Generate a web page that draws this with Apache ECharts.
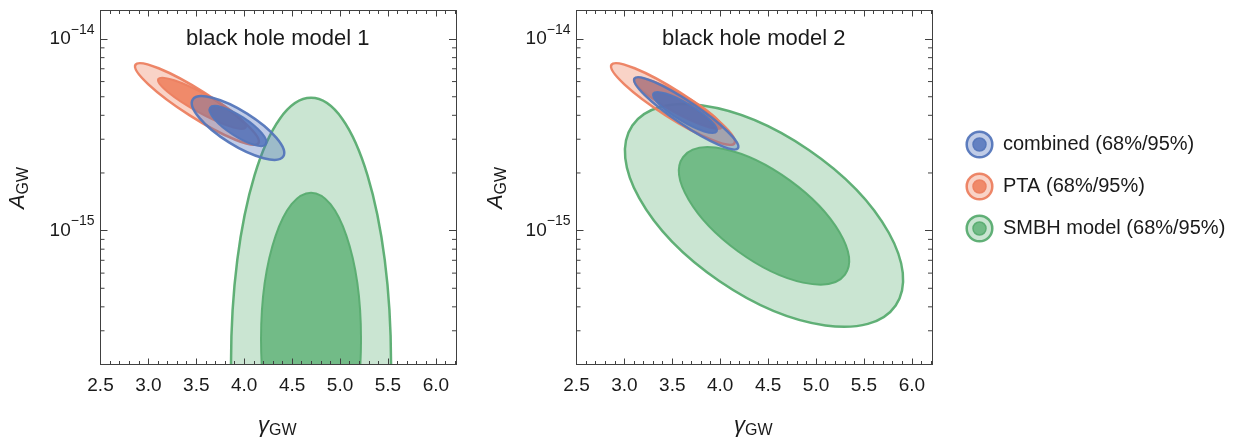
<!DOCTYPE html>
<html>
<head>
<meta charset="utf-8">
<script src="https://cdn.jsdelivr.net/npm/echarts@6/dist/echarts.min.js"></script>
<style>
html,body{margin:0;padding:0;background:#fff;}
#chart{width:1236px;height:439px;}
</style>
</head>
<body>
<div id="chart"></div>
<script>
// ---------------- data ----------------
const gammaRange = [2.5, 6.21];
const gammaTickStep = 0.5;
const ampRange = [2e-16, 1.41e-14];
const ampMinorTicks = [3e-16, 4e-16, 5e-16, 6e-16, 7e-16, 8e-16, 9e-16,
                       2e-15, 3e-15, 4e-15, 5e-15, 6e-15, 7e-15, 8e-15, 9e-15];

const panelTitles = ['black hole model 1', 'black hole model 2'];
const legendLabels = ['combined (68%/95%)', 'PTA (68%/95%)', 'SMBH model (68%/95%)'];

// each contour: [γ, A] of its centre, end of one axis, end of the other axis
const pta95 = [[3.507, 4.582e-15], [4.149, 2.860e-15], [3.431, 3.996e-15]];
const pta68 = [[3.559, 4.621e-15], [4.016, 3.452e-15], [3.511, 4.181e-15]];

const combined95Model1 = [[3.935, 3.434e-15], [4.408, 2.442e-15], [3.841, 2.887e-15]];
const combined68Model1 = [[3.935, 3.517e-15], [4.228, 2.824e-15], [3.878, 3.180e-15]];
const smbh95Model1 = [[4.697, 2.034e-16], [4.697, 4.935e-15], [5.532, 2.034e-16]];
const smbh68Model1 = [[4.697, 2.706e-16], [4.697, 1.578e-15], [5.219, 2.706e-16]];

const combined95Model2 = [[3.645, 4.097e-15], [4.185, 2.694e-15], [3.578, 3.654e-15]];
const combined68Model2 = [[3.632, 4.137e-15], [3.963, 3.290e-15], [3.584, 3.770e-15]];
const smbh95Model2 = [[4.457, 1.200e-15], [5.831, 4.067e-16], [3.989, 5.460e-16]];
const smbh68Model2 = [[4.457, 1.193e-15], [5.302, 5.888e-16], [4.187, 7.780e-16]];

// ---------------- styling ----------------
const FONT = '"Liberation Sans", Arial, Helvetica, sans-serif';
const FRAME = '#404040';
const TEXT = '#1a1a1a';
const palette = {
  comb: { line: 'rgba(84,118,186,0.95)', light: 'rgba(75,110,185,0.35)', dark: 'rgba(75,110,185,0.80)' },
  pta:  { line: 'rgba(236,128,96,0.95)', light: 'rgba(235,110,70,0.30)', dark: 'rgba(235,110,70,0.72)' },
  smbh: { line: 'rgba(88,172,112,0.95)', light: 'rgba(80,170,105,0.30)', dark: 'rgba(80,170,105,0.72)' }
};

const chart = echarts.init(document.getElementById('chart'), null, { renderer: 'canvas' });

const gridBoxes = [
  { left: 100.5, top: 10.5, width: 355.5, height: 354 },
  { left: 576.5, top: 10.5, width: 355.5, height: 354 }
];

function gammaLabel(v) {
  return Math.abs(v / gammaTickStep - Math.round(v / gammaTickStep)) < 1e-6 ? v.toFixed(1) : '';
}
function ampLabel(v) {
  const e = Math.log10(v);
  const r = Math.round(e);
  if (Math.abs(e - r) > 1e-6) return '';
  return '{b|10}{e|' + (r < 0 ? '\u2212' : '') + Math.abs(r) + '}';
}

const xAxes = [], yAxes = [];
gridBoxes.forEach((g, gi) => {
  ['bottom', 'top'].forEach(pos => {
    xAxes.push({
      type: 'value', gridIndex: gi, position: pos, z: 5,
      min: gammaRange[0], max: gammaRange[1], interval: gammaTickStep,
      axisLine: { show: true, onZero: false, lineStyle: { color: FRAME, width: 1 } },
      axisTick: { show: true, inside: true, length: 6, lineStyle: { color: FRAME, width: 1 } },
      minorTick: { show: true, splitNumber: 5, length: 3.5, lineStyle: { color: FRAME, width: 1 } },
      splitLine: { show: false },
      axisLabel: {
        show: pos === 'bottom', margin: 12, fontSize: 19, fontFamily: FONT, color: TEXT,
        formatter: gammaLabel, showMinLabel: true, showMaxLabel: true
      }
    });
  });
  ['left', 'right'].forEach(pos => {
    yAxes.push({
      type: 'log', logBase: 10, gridIndex: gi, position: pos, z: 5,
      min: ampRange[0], max: ampRange[1],
      axisLine: { show: true, onZero: false, lineStyle: { color: FRAME, width: 1 } },
      axisTick: { show: true, inside: true, length: 7, lineStyle: { color: FRAME, width: 1 } },
      minorTick: { show: false },
      splitLine: { show: false },
      axisLabel: {
        show: pos === 'left', margin: 6, formatter: ampLabel,
        rich: {
          b: { fontSize: 19, lineHeight: 32, fontFamily: FONT, color: TEXT },
          e: { fontSize: 14, verticalAlign: 'top', fontFamily: FONT, color: TEXT }
        }
      }
    });
  });
});

function contourSeries(pts, gi, fill, stroke, lw) {
  return {
    type: 'custom', coordinateSystem: 'cartesian2d', silent: true, clip: true,
    xAxisIndex: gi * 2, yAxisIndex: gi * 2, z: 2,
    data: [[pts[0][0], pts[0][1], pts[1][0], pts[1][1], pts[2][0], pts[2][1]]],
    renderItem: function (params, api) {
      const c = api.coord([api.value(0), api.value(1)]);
      const p = api.coord([api.value(2), api.value(3)]);
      const q = api.coord([api.value(4), api.value(5)]);
      const rx = Math.hypot(p[0] - c[0], p[1] - c[1]);
      const ry = Math.hypot(q[0] - c[0], q[1] - c[1]);
      const ang = Math.atan2(p[1] - c[1], p[0] - c[0]);
      const cs = params.coordSys;
      return {
        type: 'group',
        clipPath: { type: 'rect', shape: { x: cs.x, y: cs.y, width: cs.width, height: cs.height } },
        children: [{
          type: 'ellipse', x: c[0], y: c[1], rotation: -ang,
          shape: { cx: 0, cy: 0, rx: rx, ry: ry },
          style: { fill: fill, stroke: stroke, lineWidth: lw }
        }]
      };
    }
  };
}

function minorTickSeries(gi) {
  return {
    type: 'custom', coordinateSystem: 'cartesian2d', silent: true, z: 6,
    xAxisIndex: gi * 2, yAxisIndex: gi * 2,
    data: ampMinorTicks.map(v => [gammaRange[0], v]),
    renderItem: function (params, api) {
      const cs = params.coordSys;
      const y = api.coord([api.value(0), api.value(1)])[1];
      return {
        type: 'group', children: [
          { type: 'line', shape: { x1: cs.x, y1: y, x2: cs.x + 4, y2: y }, style: { stroke: FRAME, lineWidth: 1 } },
          { type: 'line', shape: { x1: cs.x + cs.width, y1: y, x2: cs.x + cs.width - 4, y2: y }, style: { stroke: FRAME, lineWidth: 1 } }
        ]
      };
    }
  };
}

const panels = [
  { smbh95: smbh95Model1, smbh68: smbh68Model1, c95: combined95Model1, c68: combined68Model1 },
  { smbh95: smbh95Model2, smbh68: smbh68Model2, c95: combined95Model2, c68: combined68Model2 }
];

const series = [];
panels.forEach((p, gi) => {
  series.push(contourSeries(p.smbh95, gi, palette.smbh.light, palette.smbh.line, 2.5));
  series.push(contourSeries(p.smbh68, gi, palette.smbh.dark, palette.smbh.line, 2));
  series.push(contourSeries(pta95, gi, palette.pta.light, palette.pta.line, 2.5));
  series.push(contourSeries(pta68, gi, palette.pta.dark, palette.pta.line, 2));
  series.push(contourSeries(p.c95, gi, palette.comb.light, palette.comb.line, 2.5));
  series.push(contourSeries(p.c68, gi, palette.comb.dark, palette.comb.line, 2));
  series.push(minorTickSeries(gi));
});

// ---------------- texts & legend ----------------
const graphics = [];
gridBoxes.forEach((g, gi) => {
  const cx = g.left + g.width / 2;
  graphics.push({
    type: 'text', x: cx - 0.5, y: 39,
    style: { text: panelTitles[gi], font: '22px ' + FONT, fill: TEXT,
             align: 'center', verticalAlign: 'middle', textAlign: 'center', textVerticalAlign: 'middle' }
  });
  graphics.push({
    type: 'text', x: cx - 1, y: 425.5,
    style: {
      text: '{g|\u03b3}{s|GW}', fill: TEXT,
      align: 'center', verticalAlign: 'middle', textAlign: 'center', textVerticalAlign: 'middle',
      rich: {
        g: { fontSize: 22, fontStyle: 'italic', lineHeight: 26, fontFamily: FONT, fill: TEXT, color: TEXT },
        s: { fontSize: 16, verticalAlign: 'bottom', fontFamily: FONT, fill: TEXT, color: TEXT }
      }
    }
  });
  graphics.push({
    type: 'text', x: g.left - 82.5 + (gi ? 2 : 0), y: 188, rotation: Math.PI / 2,
    style: {
      text: '{a|A}{s|GW}', fill: TEXT,
      align: 'center', verticalAlign: 'middle', textAlign: 'center', textVerticalAlign: 'middle',
      rich: {
        a: { fontSize: 22, fontStyle: 'italic', lineHeight: 28, fontFamily: FONT, fill: TEXT, color: TEXT },
        s: { fontSize: 16, verticalAlign: 'bottom', fontFamily: FONT, fill: TEXT, color: TEXT }
      }
    }
  });
});

const legendColors = [palette.comb, palette.pta, palette.smbh];
legendLabels.forEach((label, i) => {
  const col = legendColors[i];
  graphics.push({
    type: 'group', x: 979.5, y: 144.5 + i * 42,
    children: [
      { type: 'circle', shape: { cx: 0, cy: 0, r: 12.8 }, style: { fill: col.light, stroke: col.line, lineWidth: 2.5 } },
      { type: 'circle', shape: { cx: 0, cy: 0, r: 6.5 }, style: { fill: col.dark, stroke: col.line, lineWidth: 1.5 } },
      { type: 'text', x: 23.5, y: 0,
        style: { text: label, font: '20px ' + FONT, fill: TEXT,
                 align: 'left', verticalAlign: 'middle', textAlign: 'left', textVerticalAlign: 'middle' } }
    ]
  });
});

chart.setOption({
  animation: false,
  backgroundColor: '#ffffff',
  grid: gridBoxes.map(g => Object.assign({ containLabel: false, outerBoundsMode: 'none' }, g)),
  xAxis: xAxes,
  yAxis: yAxes,
  series: series,
  graphic: { elements: graphics }
});
</script>
</body>
</html>
